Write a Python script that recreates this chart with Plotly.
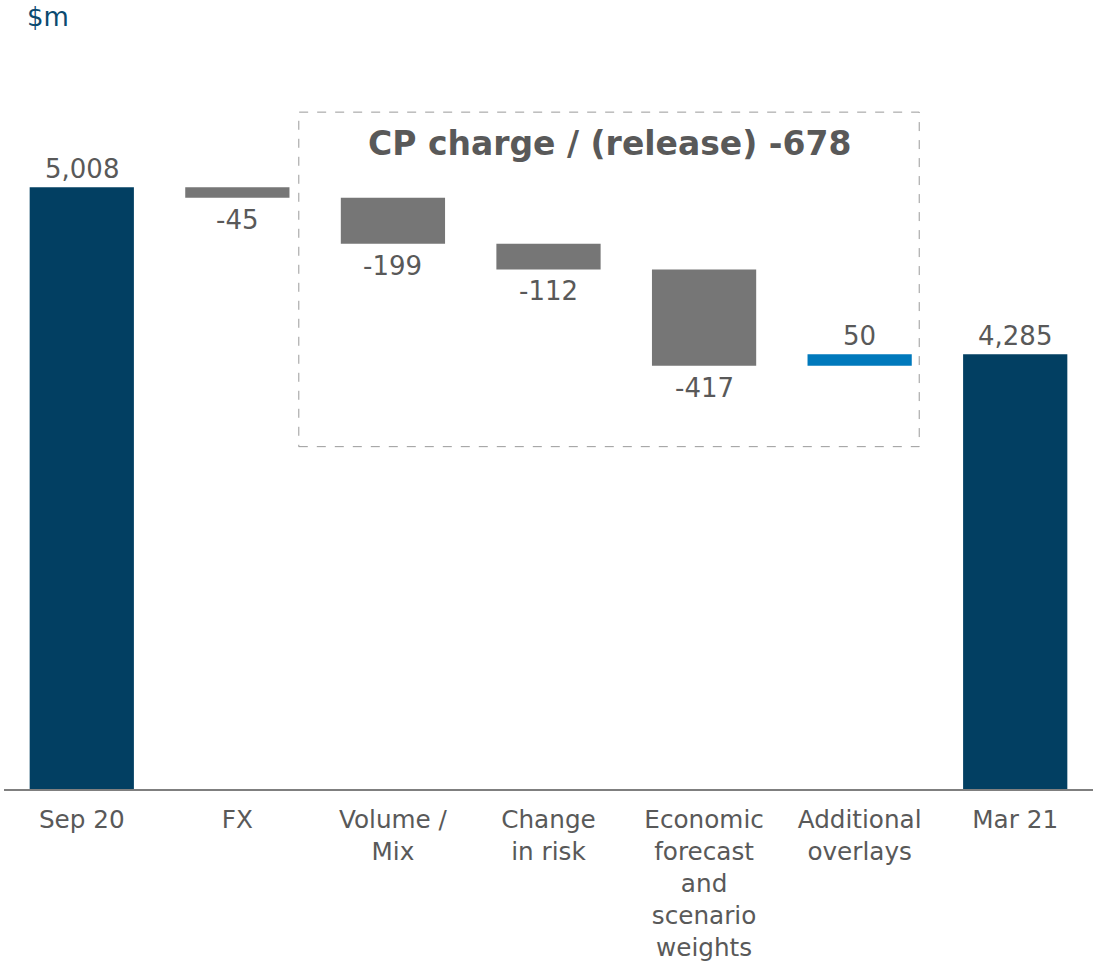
import plotly.graph_objects as go

categories = ["Sep 20", "FX", "Volume /<br>Mix", "Change<br>in risk",
              "Economic<br>forecast<br>and<br>scenario<br>weights",
              "Additional<br>overlays", "Mar 21"]
values = [5008, -45, -199, -112, -417, 50, 4285]
kinds = ["total", "delta", "delta", "delta", "delta", "delta", "total"]
labels = ["5,008", "-45", "-199", "-112", "-417", "50", "4,285"]
box_title = "CP charge / (release)"
unit_label = "$m"

NAVY = "#023F62"
GRAY = "#767676"
BLUE = "#0079BC"
TXT = "#595959"
FONT = "DejaVu Sans, Verdana, sans-serif"

bases, heights, colors = [], [], []
running = 0
for v, k in zip(values, kinds):
    if k == "total":
        bases.append(0)
        heights.append(v)
        colors.append(NAVY)
        running = v
    else:
        bases.append(running)
        heights.append(v)
        colors.append(GRAY if v < 0 else BLUE)
        running += v

fig = go.Figure(go.Bar(
    x=categories, y=heights, base=bases, marker=dict(color=colors, line=dict(width=0)),
    width=0.67, hoverinfo="skip"))

for c, v, b, lab in zip(categories, heights, bases, labels):
    top = max(b, b + v)
    bot = min(b, b + v)
    if v >= 0:
        fig.add_annotation(x=c, y=top, text=lab, showarrow=False, yanchor="bottom",
                           yshift=1, font=dict(size=26, color=TXT, family=FONT))
    else:
        fig.add_annotation(x=c, y=bot, text=lab, showarrow=False, yanchor="top",
                           yshift=-5, font=dict(size=26, color=TXT, family=FONT))

# CP charge/(release) excludes FX
cp_total = sum(v for v, k in zip(values[2:], kinds[2:]) if k == "delta")
fig.add_shape(type="rect", xref="x", yref="y", x0=1.395, x1=5.383, y0=3884, y1=5334,
              line=dict(color="#9a9a9a", width=1, dash="dash"), fillcolor="rgba(0,0,0,0)")
fig.add_annotation(x=3.39, y=5197, xref="x", yref="y", text=f"<b>{box_title} {cp_total}</b>",
                   showarrow=False, font=dict(size=33, color=TXT, family=FONT))
fig.add_annotation(x=0.0193, y=1.0583, xref="paper", yref="paper", xanchor="left", yanchor="middle",
                   text=unit_label, showarrow=False,
                   font=dict(size=26, color="#0B4A70", family=FONT))

fig.update_layout(
    width=1102, height=966, margin=dict(l=4, r=9, t=60, b=169),
    plot_bgcolor="white", paper_bgcolor="white", showlegend=False,
    xaxis=dict(type="category", range=[-0.5, 6.5], showgrid=False, showline=True,
               linecolor="#7f7f7f", linewidth=2, ticks="", ticklabelstandoff=7,
               tickfont=dict(size=24.7, color=TXT, family=FONT)),
    yaxis=dict(range=[2400, 5560], visible=False, showgrid=False),
)

fig.write_html("out.html", config={"displayModeBar": False},
               post_script="document.body.style.margin='0';")
